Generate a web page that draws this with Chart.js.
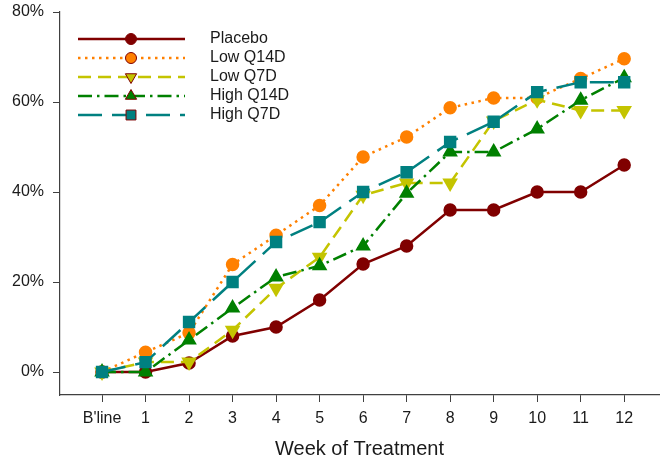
<!DOCTYPE html>
<html>
<head>
<meta charset="utf-8">
<script src="https://cdn.jsdelivr.net/npm/chart.js@4"></script>
<style>
  html, body { margin: 0; padding: 0; background: #fff; }
  canvas { display: block; }
</style>
</head>
<body>
<canvas id="weekChart" width="660" height="462"></canvas>
<script>
//====================================
// DATA
//====================================
const weeks = [0, 1, 2, 3, 4, 5, 6, 7, 8, 9, 10, 11, 12];
const weekLabels = ["B'line", "1", "2", "3", "4", "5", "6", "7", "8", "9", "10", "11", "12"];
const yTicks = [0, 20, 40, 60, 80];

const placebo  = [0, 0, 2, 8, 10, 16, 24, 28, 36, 36, 40, 40, 46];
const lowQ14D  = [0, 4.4, 8.7, 23.9, 30.4, 37, 47.8, 52.2, 58.7, 60.9, 60.9, 65.2, 69.6];
const lowQ7D   = [0, 2.2, 2.2, 9.3, 18.6, 25.5, 39.3, 42, 42, 55.8, 60.5, 58.1, 58.1];
const highQ14D = [0, 0, 7.1, 14.2, 21.1, 23.6, 28, 39.7, 48.9, 48.9, 54, 60.4, 65.4];
const highQ7D  = [0, 2.2, 11.1, 20, 28.9, 33.3, 40, 44.4, 51.1, 55.6, 62.2, 64.4, 64.4];

const FONT = '"Liberation Sans", Arial, sans-serif';
const TEXT_COLOR = "#1a1a1a";
const AXIS_COLOR = "#404040";

// pair each week with its value
function toPoints(values) {
  return weeks.map((w, i) => ({ x: w, y: values[i] }));
}

//====================================
// LEGEND (line sample + marker)
//====================================
const lineLegend = {
  id: "lineLegend",
  afterDraw(chart) {
    const ctx = chart.ctx;
    chart.data.datasets.forEach((ds, i) => {
      const y = 39 + i * 19;
      ctx.save();
      ctx.strokeStyle = ds.borderColor;
      ctx.lineWidth = ds.borderWidth;
      ctx.setLineDash(ds.borderDash || []);
      ctx.beginPath();
      ctx.moveTo(78, y);
      ctx.lineTo(185, y);
      ctx.stroke();
      ctx.setLineDash([]);

      ctx.fillStyle = ds.pointBackgroundColor;
      ctx.strokeStyle = "#800000";
      ctx.lineWidth = 1;
      Chart.helpers.drawPoint(ctx, {
        pointStyle: ds.pointStyle,
        radius: ds.pointRadius,
        rotation: ds.pointRotation || 0,
        borderWidth: 1,
      }, 131, y);

      ctx.fillStyle = TEXT_COLOR;
      ctx.font = "16px " + FONT;
      ctx.textBaseline = "middle";
      ctx.fillText(ds.label, 210, y);
      ctx.restore();
    });
  },
};

//====================================
// CHART
//====================================
const ctx = document.getElementById("weekChart").getContext("2d");

new Chart(ctx, {
  type: "line",
  data: {
    datasets: [
      {
        label: "Placebo",
        data: toPoints(placebo),
        borderColor: "#800000",
        backgroundColor: "#800000",
        pointBackgroundColor: "#800000",
        pointBorderColor: "#800000",
        borderWidth: 2.5,
        pointStyle: "circle",
        pointRadius: 5.5,
        order: 5,
      },
      {
        label: "Low Q14D",
        data: toPoints(lowQ14D),
        borderColor: "#ff8000",
        backgroundColor: "#ff8000",
        pointBackgroundColor: "#ff8000",
        pointBorderColor: "#ff8000",
        borderWidth: 2.5,
        borderDash: [2.5, 4.5],
        pointStyle: "circle",
        pointRadius: 5.5,
        order: 4,
      },
      {
        label: "Low Q7D",
        data: toPoints(lowQ7D),
        borderColor: "#c4c400",
        backgroundColor: "#c4c400",
        pointBackgroundColor: "#c4c400",
        pointBorderColor: "#c4c400",
        borderWidth: 2.5,
        borderDash: [13, 7],
        pointStyle: "triangle",
        pointRotation: 180,
        pointRadius: 6.5,
        order: 3,
      },
      {
        label: "High Q14D",
        data: toPoints(highQ14D),
        borderColor: "#008000",
        backgroundColor: "#008000",
        pointBackgroundColor: "#008000",
        pointBorderColor: "#008000",
        borderWidth: 2.5,
        borderDash: [14, 5, 2.5, 5],
        pointStyle: "triangle",
        pointRadius: 6.5,
        order: 2,
      },
      {
        label: "High Q7D",
        data: toPoints(highQ7D),
        borderColor: "#008080",
        backgroundColor: "#008080",
        pointBackgroundColor: "#008080",
        pointBorderColor: "#008080",
        borderWidth: 2.5,
        borderDash: [24, 10],
        pointStyle: "rect",
        pointRadius: 7,
        order: 1,
      },
    ],
  },
  options: {
    responsive: false,
    animation: false,
    layout: {
      autoPadding: false,
      padding: { top: 12, right: 1, bottom: 0, left: 0 },
    },
    scales: {
      x: {
        type: "linear",
        min: -0.966,
        max: 12.8,
        afterBuildTicks: (scale) => {
          scale.ticks = weeks.map((w) => ({ value: w }));
        },
        afterFit: (scale) => {
          scale.height = 67;
          scale.paddingLeft = 0;
          scale.paddingRight = 0;
        },
        ticks: {
          color: TEXT_COLOR,
          font: { family: FONT, size: 16 },
          padding: 7,
          autoSkip: false,
          maxRotation: 0,
          callback: (value) => weekLabels[weeks.indexOf(value)],
        },
        grid: {
          drawOnChartArea: false,
          drawTicks: true,
          tickLength: 7,
          color: AXIS_COLOR,
        },
        border: { display: true, color: AXIS_COLOR, width: 1.2 },
        title: {
          display: true,
          text: "Week of Treatment",
          color: TEXT_COLOR,
          font: { family: FONT, size: 20 },
          padding: { top: 0, bottom: 1 },
        },
      },
      y: {
        min: -5.11,
        max: 80,
        afterBuildTicks: (scale) => {
          scale.ticks = yTicks.map((v) => ({ value: v }));
        },
        afterFit: (scale) => {
          scale.width = 60;
          scale.paddingTop = 0;
          scale.paddingBottom = 0;
        },
        ticks: {
          color: TEXT_COLOR,
          font: { family: FONT, size: 16 },
          padding: 9,
          callback: (value) => value + "%",
        },
        grid: {
          drawOnChartArea: false,
          drawTicks: true,
          tickLength: 7,
          color: AXIS_COLOR,
        },
        border: { display: true, color: AXIS_COLOR, width: 1.2 },
      },
    },
    plugins: {
      legend: { display: false },
      tooltip: { enabled: false },
    },
  },
  plugins: [lineLegend],
});
</script>
</body>
</html>
